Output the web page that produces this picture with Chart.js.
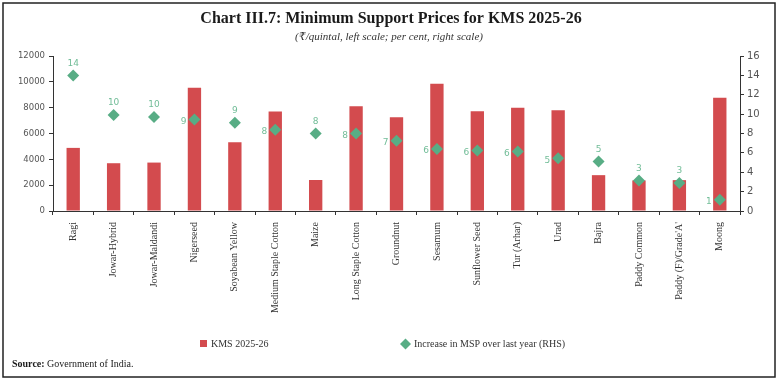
<!DOCTYPE html>
<html>
<head>
<meta charset="utf-8">
<script src="https://cdn.jsdelivr.net/npm/chart.js@4.4.1/dist/chart.umd.min.js"></script>
<style>
  html, body { margin: 0; padding: 0; background: #fff; }
  #wrap { position: relative; width: 780px; height: 382px; }
</style>
</head>
<body>
<div id="wrap"><canvas id="msp-chart" width="780" height="382"></canvas></div>
<script>
// Data
const crops = [
  "Ragi", "Jowar-Hybrid", "Jowar-Maldandi", "Nigerseed", "Soyabean Yellow",
  "Medium Staple Cotton", "Maize", "Long Staple Cotton", "Groundnut", "Sesamum",
  "Sunflower Seed", "Tur (Arhar)", "Urad", "Bajra", "Paddy Common",
  "Paddy (F)/Grade'A'", "Moong"
];
const msp2025 = [4886, 3699, 3749, 9537, 5328, 7710, 2400, 8110, 7263, 9846, 7721, 8000, 7800, 2775, 2369, 2389, 8768];
const mspIncrease = [14.0, 9.9, 9.7, 9.45, 9.1, 8.4, 8.0, 8.0, 7.25, 6.4, 6.25, 6.15, 5.45, 5.1, 3.15, 2.9, 1.15];
const leftTicks = [0, 2000, 4000, 6000, 8000, 10000, 12000];
const rightTicks = [0, 2, 4, 6, 8, 10, 12, 14, 16];

const barColor = "#d34b4e";
const diamondColor = "#58ad85";
const labelColor = "#72bd98";
const axisColor = "#333";
const serif = '"Liberation Serif", "DejaVu Serif", serif';
const sans = '"DejaVu Sans", sans-serif';

// Value labels next to the diamonds: to the left when the diamond sits over its bar
const pointLabels = {
  id: "pointLabels",
  afterDatasetsDraw(chart) {
    const ctx = chart.ctx;
    const pts = chart.getDatasetMeta(0).data;
    const bars = chart.getDatasetMeta(1).data;
    ctx.save();
    ctx.font = "9px " + sans;
    ctx.fillStyle = labelColor;
    ctx.textBaseline = "middle";
    pts.forEach((p, i) => {
      const txt = String(Math.round(mspIncrease[i]));
      if (p.y > bars[i].y + 6) {
        ctx.textAlign = "right";
        ctx.fillText(txt, p.x - 8, p.y + 2);
      } else {
        ctx.textAlign = "center";
        ctx.fillText(txt, p.x, p.y - 12);
      }
    });
    ctx.restore();
  },
};

// Title, legend, source note and frame
const decorations = {
  id: "decorations",
  beforeDraw(chart) {
    const ctx = chart.ctx;
    ctx.save();
    ctx.fillStyle = "#fff";
    ctx.fillRect(0, 0, chart.width, chart.height);
    ctx.restore();
  },
  afterDraw(chart) {
    const ctx = chart.ctx;
    ctx.save();
    ctx.textBaseline = "middle";
    ctx.textAlign = "center";
    ctx.fillStyle = "#1a1a1a";
    ctx.font = "bold 16px " + serif;
    ctx.fillText("Chart III.7: Minimum Support Prices for KMS 2025-26", 391, 19);
    ctx.fillStyle = "#333";
    ctx.font = "italic 11px " + serif;
    ctx.fillText("(₹/quintal, left scale; per cent, right scale)", 389, 37);

    // legend
    ctx.textAlign = "left";
    ctx.font = "10px " + serif;
    ctx.fillStyle = barColor;
    ctx.fillRect(200, 340, 7, 7);
    ctx.fillStyle = "#333";
    ctx.fillText("KMS 2025-26", 211, 344);
    ctx.fillStyle = diamondColor;
    ctx.beginPath();
    ctx.moveTo(405.5, 338.5);
    ctx.lineTo(411, 344);
    ctx.lineTo(405.5, 349.5);
    ctx.lineTo(400, 344);
    ctx.closePath();
    ctx.fill();
    ctx.fillStyle = "#333";
    ctx.fillText("Increase in MSP over last year (RHS)", 414, 344);

    // source
    ctx.fillStyle = "#1a1a1a";
    ctx.font = "bold 10px " + serif;
    ctx.fillText("Source:", 12, 364);
    const w = ctx.measureText("Source:").width;
    ctx.font = "10px " + serif;
    ctx.fillText(" Government of India.", 12 + w, 364);

    // frame
    ctx.strokeStyle = "#222";
    ctx.lineWidth = 1.5;
    ctx.strokeRect(3, 3, 772, 374);
    ctx.restore();
  },
};

const ctx = document.getElementById("msp-chart").getContext("2d");
new Chart(ctx, {
  data: {
    labels: crops,
    datasets: [
      {
        type: "line",
        label: "Increase in MSP over last year (RHS)",
        data: mspIncrease,
        yAxisID: "y1",
        showLine: false,
        pointStyle: "rectRot",
        pointRadius: 6,
        pointBorderWidth: 0,
        backgroundColor: diamondColor,
        borderColor: diamondColor,
        order: 0,
      },
      {
        type: "bar",
        label: "KMS 2025-26",
        data: msp2025,
        yAxisID: "y",
        backgroundColor: barColor,
        barPercentage: 0.33,
        categoryPercentage: 1,
        order: 1,
      },
    ],
  },
  options: {
    responsive: false,
    animation: false,
    layout: { padding: { top: 56, left: 0, right: 0, bottom: 0 } },
    plugins: {
      legend: { display: false },
      tooltip: { enabled: false },
    },
    scales: {
      x: {
        grid: { offset: true, drawOnChartArea: false, drawTicks: true, tickLength: 4, color: axisColor },
        border: { color: axisColor },
        ticks: {
          autoSkip: false,
          maxRotation: 90,
          minRotation: 90,
          padding: 7,
          color: "#333",
          font: { family: serif, size: 10 },
        },
        afterFit: (s) => { s.height = 171; },
      },
      y: {
        position: "left",
        min: 0,
        max: 12000,
        afterBuildTicks: (s) => { s.ticks = leftTicks.map((v) => ({ value: v })); },
        grid: { drawOnChartArea: false, tickLength: 4, color: axisColor },
        border: { color: axisColor },
        ticks: { padding: 4, color: "#555", font: { family: sans, size: 8.5 }, callback: (v) => String(v) },
        afterFit: (s) => { s.width = 53; },
      },
      y1: {
        position: "right",
        min: 0,
        max: 16,
        afterBuildTicks: (s) => { s.ticks = rightTicks.map((v) => ({ value: v })); },
        grid: { drawOnChartArea: false, tickLength: 4, color: axisColor },
        border: { color: axisColor },
        ticks: { padding: 3, color: "#555", font: { family: sans, size: 10 }, callback: (v) => String(v) },
        afterFit: (s) => { s.width = 40; },
      },
    },
  },
  plugins: [pointLabels, decorations],
});
</script>
</body>
</html>
